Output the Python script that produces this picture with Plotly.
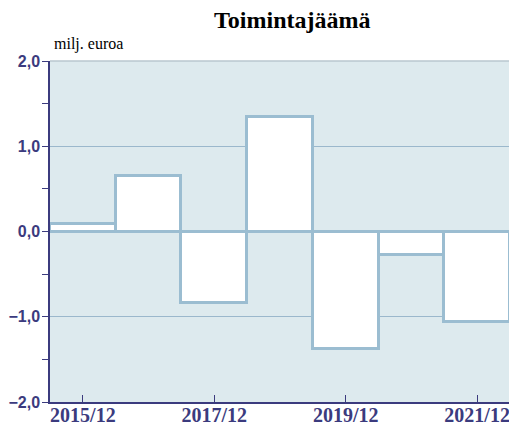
import plotly.graph_objects as go

categories = ["2015/12", "2016/12", "2017/12", "2018/12", "2019/12", "2020/12", "2021/12"]
values = [0.09, 0.65, -0.84, 1.34, -1.38, -0.28, -1.06]
x_tick_labels = ["2015/12", "2017/12", "2019/12", "2021/12"]
y_tick_vals = [-2, -1, 0, 1, 2]
y_tick_text = ["\u22122,0", "\u22121,0", "0,0", "1,0", "2,0"]

navy = "#3b3b7e"
outline = "#9bbdd1"

# page body adds an 8px offset; figure sized to fill the rest of the window
fig = go.Figure()
fig.add_trace(go.Bar(
    x=categories, y=values,
    marker=dict(color="white", line=dict(color=outline, width=3)),
    hoverinfo="skip",
))

fig.update_layout(
    width=509, height=417,
    margin=dict(l=42, r=7, t=53, b=23, autoexpand=False),
    paper_bgcolor="white",
    plot_bgcolor="#ddeaee",
    bargap=0,
    showlegend=False,
    xaxis=dict(
        type="category", range=[-0.5, 6.5], automargin=False,
        tickmode="array", tickvals=x_tick_labels,
        ticktext=["<b>%s</b>" % t for t in x_tick_labels],
        ticks="inside", ticklen=7, tickwidth=1, tickcolor=navy,
        ticklabelstandoff=-6,
        showline=True, linecolor=navy, linewidth=1.5,
        showgrid=False,
        tickfont=dict(family="Liberation Serif", size=20, color=navy),
    ),
    yaxis=dict(
        range=[-2, 2], automargin=False,
        tickmode="array", tickvals=y_tick_vals,
        ticktext=["<b>%s</b>" % t for t in y_tick_text],
        ticks="outside", ticklen=5, tickwidth=1, tickcolor=navy,
        showline=True, linecolor=navy, linewidth=1.5,
        showgrid=True, gridcolor="#9bb8cc", gridwidth=1,
        zeroline=True, zerolinecolor=outline, zerolinewidth=3,
        minor=dict(dtick=0.5, ticks="outside", ticklen=6, tickcolor=navy, showgrid=False),
        tickfont=dict(family="Liberation Sans", size=16, color=navy),
    ),
    shapes=[
        dict(type="line", xref="paper", yref="paper", x0=0, x1=1, y0=1, y1=1,
             line=dict(color="#b9c7cf", width=1.5)),
        dict(type="line", xref="paper", yref="paper", x0=1, x1=1, y0=0, y1=1,
             line=dict(color="#b9c7cf", width=1.5)),
    ],
    annotations=[
        dict(text="<b>Toimintajäämä</b>", xref="paper", yref="paper",
             x=(292 - 50) / 460, y=1, yshift=41, xanchor="center", yanchor="middle",
             showarrow=False, font=dict(family="Liberation Serif", size=24, color="black")),
        dict(text="milj. euroa", xref="paper", yref="paper",
             x=0, y=1, xshift=2, yshift=17, xanchor="left", yanchor="middle",
             showarrow=False, font=dict(family="Liberation Serif", size=16, color="black")),
    ],
)

fig.write_html("out.html")
